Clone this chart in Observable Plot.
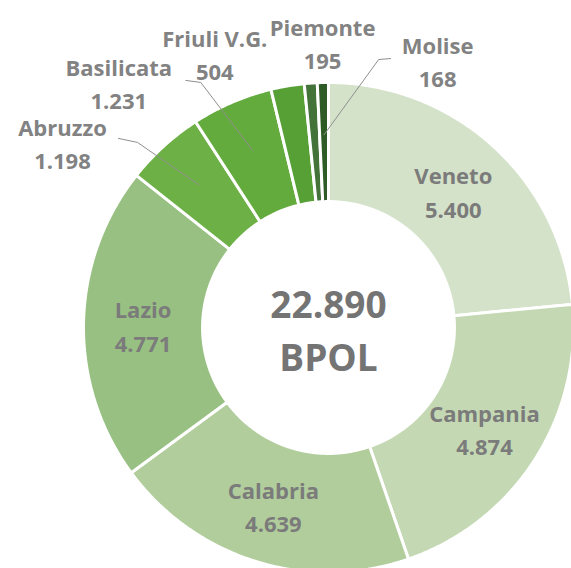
<!DOCTYPE html>
<html><head><meta charset="utf-8">
<script src="https://cdn.jsdelivr.net/npm/d3@7"></script>
<script src="https://cdn.jsdelivr.net/npm/@observablehq/plot@0.6"></script>
<style>
html,body{margin:0;padding:0;background:#fff;}
#chart svg{display:block;}
</style>
</head><body><div id="chart"></div>
<script>
// ---- data ----
const regions = ["Veneto","Campania","Calabria","Lazio","Abruzzo","Basilicata","Friuli V.G.","Piemonte","Molise"];
const values  = [5400, 4874, 4639, 4771, 1198, 1231, 504, 195, 168];
const colors  = ["#d4e2c9","#c4d9b3","#b1cd9c","#98c082","#6cb046","#64ab3e","#57a035","#44733a","#2f5c26"];
const totalText = "22.890";
const unitText  = "BPOL";

// ---- layout (not data) ----
const W = 571, H = 568, CX = 328, CY = 327, R = 245;
const RIN = 0.514;               // inner radius / outer radius
const RMID = (1 + RIN) / 2;
// outside labels: polar position (deg clockwise from top, radius in outer radii)
const outsideLayout = [
  {name: "Abruzzo",     angle: 304.9, r: 1.324, leader: [[56, -3.5], [75, 0.5]], target: "Abruzzo"},
  {name: "Basilicata",  angle: 319.5, r: 1.318, leader: null},
  {name: "Friuli V.G.", angle: 337.5, r: 1.213, leader: [[-29, 27.5], [-14, 29.5]], target: "Basilicata"},
  {name: "Piemonte",    angle: 358.8, r: 1.167, leader: null},
  {name: "Molise",      angle: 22.2,  r: 1.179, leader: [[-47, -1.5], [-59, -0.5]], target: "Molise"}
];

const locale = d3.formatLocale({decimal: ",", thousands: ".", grouping: [3], currency: ["", "€"]});
const fmt = locale.format(",");
const rad = (deg) => deg * Math.PI / 180;
const polar = (deg, r) => ({x: r * Math.sin(rad(deg)), y: r * Math.cos(rad(deg))});

// slice angles from the values
const total = d3.sum(values);
let acc = 0;
const slices = regions.map((name, i) => {
  const a0 = acc / total * 360;
  acc += values[i];
  const a1 = acc / total * 360;
  return {name, value: values[i], a0, a1, mid: (a0 + a1) / 2};
});
const byName = new Map(slices.map(s => [s.name, s]));

// ring polygons
const ring = [];
for (const s of slices) {
  const n = Math.max(2, Math.ceil((s.a1 - s.a0) / 0.5) + 1);
  for (let k = 0; k < n; k++) {
    const a = s.a0 + (s.a1 - s.a0) * k / (n - 1);
    ring.push({name: s.name, ...polar(a, 1)});
  }
  for (let k = n - 1; k >= 0; k--) {
    const a = s.a0 + (s.a1 - s.a0) * k / (n - 1);
    ring.push({name: s.name, ...polar(a, RIN)});
  }
}

// labels
const outsideNames = new Set(outsideLayout.map(d => d.name));
const insideLabels = slices.filter(s => !outsideNames.has(s.name)).map(s => ({
  text: `${s.name}\n${fmt(s.value)}`, ...polar(s.mid, RMID)
}));
const outsideLabels = outsideLayout.map(d => ({
  text: `${d.name}\n${fmt(byName.get(d.name).value)}`, ...polar(d.angle, d.r)
}));
const leaders = [];
for (const d of outsideLayout) {
  if (!d.leader) continue;
  const p = polar(d.angle, d.r);
  for (const [dx, dy] of d.leader) leaders.push({name: d.name, x: p.x + dx / R, y: p.y - dy / R});
  leaders.push({name: d.name, ...polar(byName.get(d.target).mid, 0.787)});
}

const font = "'Open Sans', 'DejaVu Sans', sans-serif";
const chart = Plot.plot({
  width: W, height: H,
  margin: 0,
  x: {domain: [-CX / R, (W - CX) / R], axis: null},
  y: {domain: [-(H - CY) / R, CY / R], axis: null},
  color: {domain: regions, range: colors},
  style: {background: "#fff"},
  marks: [
    Plot.line(ring, {x: "x", y: "y", z: "name", fill: "name", stroke: "#ffffff", strokeWidth: 3, curve: "linear-closed"}),
    Plot.line(leaders, {x: "x", y: "y", z: "name", stroke: "#8f8f8f", strokeWidth: 1}),
    Plot.text(insideLabels, {x: "x", y: "y", text: "text", fill: "#7b7b7b", fontSize: 22, fontWeight: 700, lineHeight: 1.52, fontFamily: font}),
    Plot.text(outsideLabels, {x: "x", y: "y", text: "text", fill: "#828282", fontSize: 22, fontWeight: 700, lineHeight: 1.5, fontFamily: font}),
    Plot.text([`${totalText}\n${unitText}`], {x: () => 0, y: () => 0, text: d => d, fill: "#747474", fontSize: 37, fontWeight: 700, lineHeight: 1.45, fontFamily: font})
  ]
});
document.getElementById("chart").appendChild(chart);
</script>
</body></html>
